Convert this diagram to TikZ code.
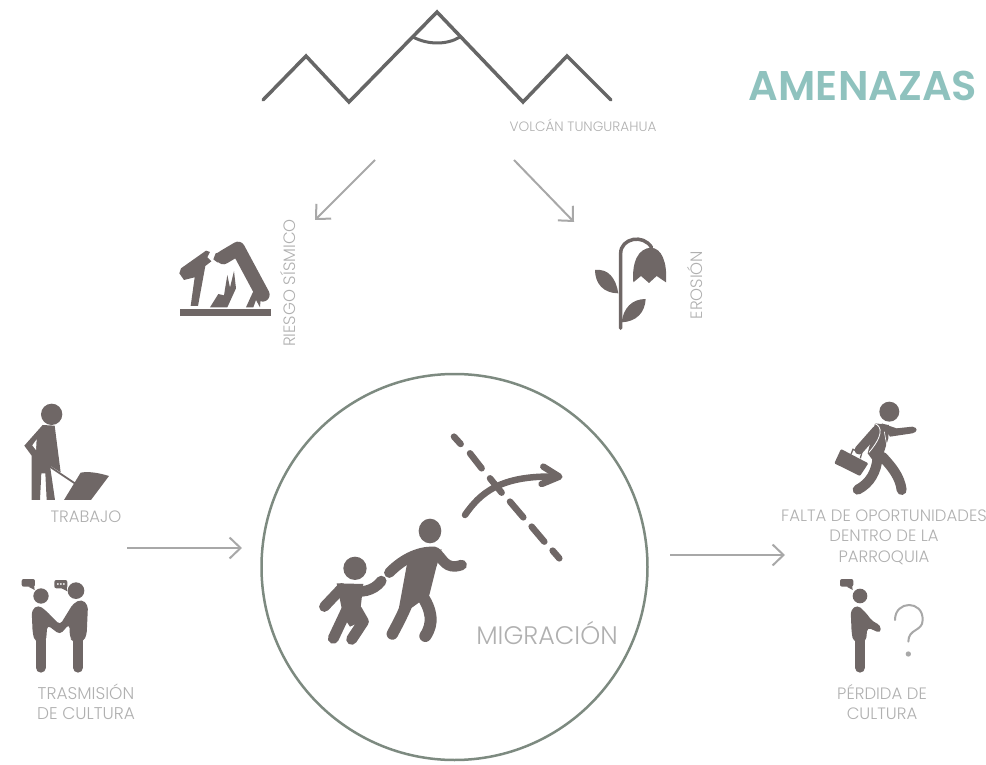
\documentclass[tikz,border=0pt]{standalone}
\usepackage{fontspec}
\setmainfont{Poppins Light}[BoldFont=Poppins SemiBold]
\usetikzlibrary{arrows.meta}
\definecolor{icon}{HTML}{6F6766}
\definecolor{mtn}{HTML}{666666}
\definecolor{lbl}{HTML}{B0B0B0}
\definecolor{arr}{HTML}{A8A8A8}
\definecolor{ring}{HTML}{7D8A80}
\definecolor{teal}{HTML}{8FC2BE}
\tikzset{
  lab/.style={text=lbl,font=\fontsize{#1}{20.5}\selectfont,inner sep=0pt,align=center},
  flow/.style={draw=arr,line width=2pt,-{Straight Barb[length=11pt,width=21pt,line width=2pt]}},
  limb/.style={draw=icon,line cap=round,line join=round,line width=#1},
  zoomed/.style={x=0.3333pt,y=-0.3333pt}
}
\begin{document}
\begin{tikzpicture}[x=1pt,y=-1pt]
\useasboundingbox (0,0) rectangle (986,765);
% volcano
\draw[mtn,line width=3.5pt,line join=miter,line cap=round] (263,100)--(306,56)--(349,102)--(437,12)--(523,102)--(567,56)--(611,100);
\draw[mtn,line width=3pt] (413,37) .. controls (428,45) and (447,45) .. (460,37);
% labels
\node[lab=13.6] (volcan) at (583,125) {VOLCÁN TUNGURAHUA};
\node[text=teal,font=\fontsize{41.5}{42}\selectfont\bfseries,inner sep=0pt] (amenazas) at (863,86) {AMENAZAS};
\node[lab=16.5,rotate=90] (riesgo) at (288,283) {RIESGO SÍSMICO};
\node[lab=16.5,rotate=90] (erosion) at (695,285) {EROSIÓN};
\node[lab=16.5] (trabajo) at (86,517) {TRABAJO};
\node[lab=17] (trasm) at (86,702) {TRASMISIÓN\\DE CULTURA};
\node[lab=16.5] (falta) at (884,537) {FALTA DE OPORTUNIDADES\\DENTRO DE LA\\PARROQUIA};
\node[lab=16.5] (perdida) at (882,702) {PÉRDIDA DE\\CULTURA};
% circle
\node[draw=ring,line width=2.5pt,circle,minimum size=386pt,inner sep=0pt] (mig) at (454.5,567) {};
\node[lab=25.4] (migt) at (547,633) {MIGRACIÓN};
% arrows
\coordinate (a1s) at (375,160); \coordinate (a1e) at (315,220);
\coordinate (a2s) at (514,160); \coordinate (a2e) at (574,222);
\coordinate (a3s) at (127,548); \coordinate (a3e) at (242,548);
\coordinate (a4s) at (670,555); \coordinate (a4e) at (785,555);
\draw[flow] (a1s)--(a1e);
\draw[flow] (a2s)--(a2e);
\draw[flow] (a3s)--(a3e);
\draw[flow] (a4s)--(a4e);
% quake icon
\begin{scope}[shift={(170,220)},zoomed]
\fill[icon] (30,268) rectangle (303,288);
\fill[icon] (62,258)--(74,172)--(42,180)--(28,160)--(33,145)--(108,92)--(120,96)--(112,112)--(124,124)--(106,138)--(84,258)--cycle;
\draw[limb=14pt] (160,112)--(204,86)--(278,224);
\fill[icon] (137,100)--(165,92)--(175,125)--(142,127)--(130,118)--cycle;
\fill[icon] (120,262)--(145,222)--(162,226)--(172,165)--(180,203)--(192,153)--(198,205)--(172,262)--cycle;
\fill[icon] (228,262)--(254,205)--(290,235)--(272,238)--(270,262)--(258,240)--(250,262)--cycle;
\end{scope}
% flower icon
\begin{scope}[shift={(580,225)},zoomed]
\draw[limb=3.5pt] (122,310)--(122,85) .. controls (122,40) and (190,25) .. (215,68);
\fill[icon] (160,172) .. controls (155,110) and (175,70) .. (213,68) .. controls (245,70) and (262,110) .. (258,172)
  --(230,153)--(207,174)--(183,153)--cycle;
\fill[icon] (45,135) .. controls (85,130) and (108,160) .. (115,205) .. controls (70,205) and (45,175) .. (45,135)--cycle;
\fill[icon] (197,222) .. controls (155,222) and (130,250) .. (125,292) .. controls (170,290) and (195,262) .. (197,222)--cycle;
\end{scope}
% worker icon
\begin{scope}[shift={(10,395)},zoomed]
\fill[icon] (125,58) circle[radius=32];
\fill[icon] (98,90)--(134,92)--(152,232)--(120,212)--(135,315)--(110,315)--(106,235)--(94,235)--(90,315)--(65,315)--(65,182)--(43,152)--cycle;
\fill[white] (67,151)--(80,133)--(78,165)--cycle;
\draw[limb=1.8pt] (112,210)--(205,272);
\fill[icon] (162,315)--(212,233) .. controls (240,228) and (270,235) .. (297,243)--(243,315)--cycle;
\end{scope}
% handshake icon
\begin{scope}[shift={(10,570)},zoomed]
\fill[icon] (93,78) circle[radius=23];
\fill[icon] (198,62) circle[radius=25];
\fill[icon,rounded corners=2pt] (35,27) rectangle (75,50);
\fill[icon] (55,50)--(74,60)--(72,45)--cycle;
\fill[icon,rounded corners=2pt] (133,30) rectangle (172,55);
\fill[icon] (155,55)--(172,64)--(170,50)--cycle;
\foreach \px in {144,153,162}{\fill[white] (\px,42) circle[radius=3];}
\fill[icon,rounded corners=4pt] (65,120)--(85,105)--(108,122)--(150,165)--(190,100)--(215,88)--(234,105)--(230,195)--(220,215)--(190,215)--(180,205)--(178,162)--(150,194)--(112,165)--(108,215)--(75,215)--(68,190)--cycle;
\draw[limb=10pt] (92,210)--(92,293);
\draw[limb=10pt] (204,210)--(204,293);
\end{scope}
% migration icon
\begin{scope}[shift={(310,420)},zoomed]
\draw[limb=6.5pt] (432,50)--(452,72) (480,100)--(515,145) (540,175)--(575,218) (600,245)--(640,292) (665,320)--(703,365) (728,392)--(748,415);
\draw[limb=6.5pt] (465,285) .. controls (510,220) and (570,165) .. (740,170);
\draw[limb=6.5pt] (700,140)--(748,170)--(695,192);
% adult
\fill[icon] (360,333) ellipse[x radius=34,y radius=37];
\draw[limb=10.5pt] (238,458) .. controls (270,425) and (320,392) .. (375,396) .. controls (400,415) and (405,452) .. (455,435);
\fill[icon] (295,410)--(395,388)--(378,445)--(358,525)--(310,560)--(262,590)--cycle;
\draw[limb=11.5pt] (320,470) .. controls (300,540) and (275,590) .. (247,642);
\draw[limb=12pt] (335,525) .. controls (365,570) and (372,610) .. (346,648);
% child
\fill[icon] (135,445) circle[radius=35];
\draw[limb=10.5pt] (95,505)--(43,560);
\draw[limb=10.5pt] (115,510) .. controls (150,520) and (190,515) .. (214,483);
\fill[icon] (80,490)--(160,492)--(150,580)--(165,600)--(120,620)--(100,590)--cycle;
\draw[limb=11pt] (110,570)--(70,655);
\draw[limb=11pt] (140,570)--(160,605)--(125,658);
\end{scope}
% businessman icon
\begin{scope}[shift={(825,395)},zoomed]
\fill[icon] (193,50) circle[radius=30];
\fill[icon] (170,85)--(215,100)--(262,95) .. controls (280,97) and (278,112) .. (262,115)--(195,125)--cycle;
\fill[icon] (150,85)--(192,90)--(190,130)--(175,178)--(190,195)--(150,205)--(128,175)--cycle;
\draw[limb=9pt] (155,105)--(102,165);
\draw[white,line width=0.8pt] (148,85) .. controls (175,95) and (172,125) .. (132,172);
\draw[white,line width=0.6pt] (178,110)--(186,155);
\draw[limb=10pt] (158,185) .. controls (155,230) and (135,265) .. (98,284);
\draw[limb=10pt] (172,185) .. controls (200,215) and (225,245) .. (230,285);
\fill[icon,rounded corners=1pt] (48,162)--(130,205)--(105,243)--(28,205)--cycle;
\draw[icon,line width=1.3pt] (78,178)--(84,163)--(110,175)--(106,190);
\end{scope}
% questioning person
\begin{scope}[shift={(830,570)},zoomed]
\fill[icon] (90,78) circle[radius=22];
\fill[icon,rounded corners=2pt] (30,27) rectangle (70,50);
\fill[icon] (50,50)--(68,60)--(66,45)--cycle;
\fill[icon,rounded corners=4pt] (62,120)--(82,105)--(105,125)--(128,155)--(152,165)--(152,190)--(112,172)--(108,215)--(70,215)--(65,190)--cycle;
\draw[limb=10pt] (90,210)--(90,293);
\draw[arr,line width=2pt,line cap=round] (195,150) .. controls (195,90) and (280,90) .. (278,150) .. controls (278,185) and (235,175) .. (235,215);
\fill[arr] (235,252) circle[radius=8];
\end{scope}
\end{tikzpicture}
\end{document}
